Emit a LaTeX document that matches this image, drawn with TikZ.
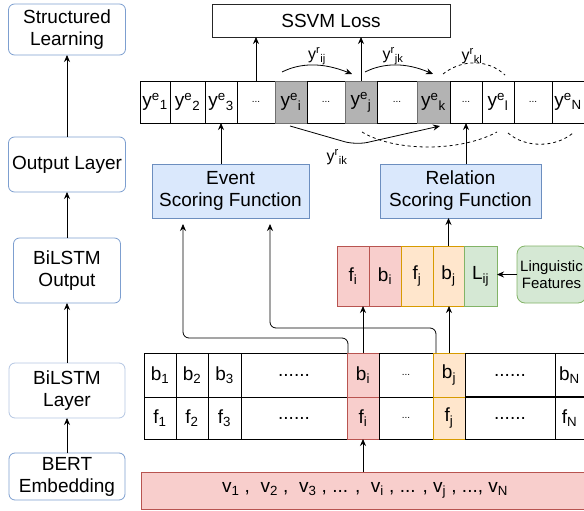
\documentclass[tikz,border=0pt]{standalone}
\usepackage{fontspec}
\setmainfont{Liberation Sans}
\usetikzlibrary{arrows.meta}

\definecolor{bluefill}{HTML}{DAE8FC}
\definecolor{bluedraw}{HTML}{6C8EBF}
\definecolor{layerdraw}{HTML}{7D9FD0}
\definecolor{layerlight}{HTML}{B4C6E2}
\definecolor{redfill}{HTML}{F8CECC}
\definecolor{reddraw}{HTML}{B85450}
\definecolor{orangefill}{HTML}{FFE6CC}
\definecolor{orangedraw}{HTML}{D79B00}
\definecolor{greenfill}{HTML}{D5E8D4}
\definecolor{greendraw}{HTML}{82B366}
\definecolor{cellgray}{HTML}{B3B3B3}
\definecolor{graydraw}{HTML}{6F6F6F}

\newcommand\celldots{\fontsize{10}{12}\selectfont...}
\newcommand\rowdots{......}

\begin{document}
\begin{tikzpicture}[x=1pt, y=-1pt,
    every node/.style={font=\fontsize{19}{22}\selectfont, inner sep=0pt, outer sep=0pt},
    cell/.style={draw, minimum height=42, line width=0.8pt},
    layerbox/.style={draw=layerdraw, fill=white, rounded corners=6, align=center, line width=0.8pt},
    scorebox/.style={draw=bluedraw, fill=bluefill, align=center, line width=0.8pt},
    lbl/.style={font=\fontsize{16}{18}\selectfont},
    arr/.style={-{Stealth[length=7pt,width=6pt]}, line width=0.8pt}]
    \useasboundingbox (0,0) rectangle (584,511);

    % Layer column
    \node[layerbox, minimum width=117, minimum height=51] (sl) at (67,29.5) {Structured\\Learning};
    \node[layerbox, minimum width=117, minimum height=55] (ol) at (67,164.5) {Output Layer};
    \node[layerbox, minimum width=107, minimum height=65] (bo) at (67,270.5) {BiLSTM\\Output};
    \node[layerbox, draw=layerlight, minimum width=116, minimum height=55] (bl) at (67,390.5) {BiLSTM\\Layer};
    \node[layerbox, minimum width=116, minimum height=47] (be) at (67,476.5) {BERT\\Embedding};
    \draw[arr] (be) -- (bl);
    \draw[arr] (bl) -- (bo);
    \draw[arr] (bo) -- (ol);
    \draw[arr] (ol) -- (sl);

    % Loss
    \node[draw=black!85, minimum width=238, minimum height=33, line width=0.8pt] (loss) at (331,20.5) {SSVM Loss};

    % Output labels
    \foreach \l/\r/\n/\t/\f/\d in {
        140/170/ye1/{y\textsuperscript{e}\textsubscript{1}}/white/black,
        170/205/ye2/{y\textsuperscript{e}\textsubscript{2}}/white/black,
        205/237/ye3/{y\textsuperscript{e}\textsubscript{3}}/white/black,
        237/275/yd1/{\celldots}/white/black,
        275/307/yei/{y\textsuperscript{e}\textsubscript{i}}/cellgray/graydraw,
        307/345/yd2/{\celldots}/white/black,
        345/377/yej/{y\textsuperscript{e}\textsubscript{j}}/cellgray/graydraw,
        377/417/yd3/{\celldots}/white/black,
        417/450/yek/{y\textsuperscript{e}\textsubscript{k}}/cellgray/graydraw,
        450/482/yd4/{\celldots}/white/black,
        482/514/yel/{y\textsuperscript{e}\textsubscript{l}}/white/black,
        514/552/yd5/{\celldots}/white/black,
        552/584/yeN/{y\textsuperscript{e}\textsubscript{N}}/white/black}
        \node[cell, fill=\f, draw=\d, minimum width={\r-\l}] (\n) at ({(\l+\r)/2},102) {\t};
    \draw[arr] (yd1.north) -- (yd1.north |- loss.south);
    \draw[arr] (yej.north) -- (yej.north |- loss.south);

    % Relation arcs
    \coordinate (rij-s) at (282,72);
    \coordinate (rij-e) at (352,74);
    \coordinate (rjk-s) at (365,72);
    \coordinate (rjk-e) at (433,74);
    \coordinate (rkl-s) at (443,74);
    \coordinate (rkl-e) at (505,75);
    \coordinate (rik-s) at (290,126);
    \coordinate (rik-e) at (440,126);
    \draw[arr] (rij-s) .. controls (300,63) and (322,62) .. (rij-e);
    \draw[arr] (rjk-s) .. controls (383,63) and (405,62) .. (rjk-e);
    \draw[dashed, line width=0.8pt] (rkl-s) .. controls (462,59) and (488,59) .. (rkl-e);
    \draw[arr, rounded corners=12] (rik-s) -- (356,145) -- (rik-e);
    \draw[dashed, line width=0.8pt] (362,132) .. controls (395,152) and (460,152) .. (497,132);
    \draw[dashed, line width=0.8pt] (508,133) .. controls (525,148) and (555,148) .. (573,133);
    \node[lbl] (rij) at (317,56) {y\textsuperscript{r}\textsubscript{ij}};
    \node[lbl] (rjk) at (393,56) {y\textsuperscript{r}\textsubscript{jk}};
    \node[lbl] (rkl) at (472,56) {y\textsuperscript{r}\textsubscript{kl}};
    \node[lbl] (rik) at (337,157) {y\textsuperscript{r}\textsubscript{ik}};

    % Scoring functions
    \node[scorebox, minimum width=157, minimum height=54] (evt) at (230.5,191) {Event\\Scoring Function};
    \node[scorebox, minimum width=161, minimum height=54] (rel) at (460.5,191) {Relation\\Scoring Function};
    \draw[arr] (evt.north -| ye3) -- (ye3.south);
    \draw[arr] (rel.north -| yd4) -- (yd4.south);

    % Pair features
    \foreach \l/\r/\n/\t/\f/\d in {
        337/369/catfi/{f\textsubscript{i}}/redfill/reddraw,
        369/401/catbi/{b\textsubscript{i}}/redfill/reddraw,
        401/433/catfj/{f\textsubscript{j}}/orangefill/orangedraw,
        433/464/catbj/{b\textsubscript{j}}/orangefill/orangedraw,
        464/497/catlij/{L\textsubscript{ij}}/greenfill/greendraw}
        \node[cell, minimum height=60, fill=\f, draw=\d, minimum width={\r-\l}] (\n) at ({(\l+\r)/2},276) {\t};
    \node[rounded corners=8, draw=greendraw, fill=greenfill, align=center, line width=0.8pt,
          minimum width=69, minimum height=57, font=\fontsize{15}{17}\selectfont] (ling) at (551.5,274.5) {Linguistic\\Features};
    \draw[arr] (ling.west) -- (ling.west -| catlij.east);
    \draw[arr] (catbj.north) -- (catbj.north |- rel.south);

    % BiLSTM states
    \foreach \l/\r/\n/\tb/\tf/\f/\d in {
        144/176/1/{b\textsubscript{1}}/{f\textsubscript{1}}/white/black,
        176/208/2/{b\textsubscript{2}}/{f\textsubscript{2}}/white/black,
        208/241/3/{b\textsubscript{3}}/{f\textsubscript{3}}/white/black,
        241/347/dots1/{\rowdots}/{\rowdots}/white/black,
        347/379/i/{b\textsubscript{i}}/{f\textsubscript{i}}/redfill/reddraw,
        379/433/dots2/{\celldots}/{\celldots}/white/black,
        433/465/j/{b\textsubscript{j}}/{f\textsubscript{j}}/orangefill/orangedraw,
        465/555/dots3/{\rowdots}/{\rowdots}/white/black,
        555/584/N/{b\textsubscript{N}}/{f\textsubscript{N}}/white/black}
    {
        \node[cell, minimum height=44, fill=\f, draw=\d, minimum width={\r-\l}] (gb\n) at ({(\l+\r)/2},375) {\tb};
        \node[cell, minimum height=42, fill=\f, draw=\d, minimum width={\r-\l}] (gf\n) at ({(\l+\r)/2},418) {\tf};
    }
    \draw[line width=1.8pt] (gbdots3.south west) -- (gbN.south east);
    \draw[arr] (gbi.north) -- (gbi.north |- catfi.south);
    \draw[arr] (gbj.north) -- (gbj.north |- catbj.south);
    \draw[arr, rounded corners=6] ([xshift=1pt]gbi.north west) -- ++(0,-15) -| ([xshift=-47.5pt,yshift=-6pt]evt.south);
    \draw[arr, rounded corners=6] ([xshift=3pt]gbj.north west) -- ++(0,-25) -| ([xshift=39.5pt,yshift=-6pt]evt.south);

    % Embeddings
    \node[draw=reddraw, fill=redfill, line width=0.8pt, minimum width=448, minimum height=37] (vbar) at (365,490.5)
        {v\textsubscript{1} ,\ \ v\textsubscript{2} ,\ \ v\textsubscript{3} , ... ,\ \ v\textsubscript{i} , ... , v\textsubscript{j} , ..., v\textsubscript{N}};
    \draw[arr] (vbar.north -| gfi) -- (gfi.south);
\end{tikzpicture}
\end{document}
